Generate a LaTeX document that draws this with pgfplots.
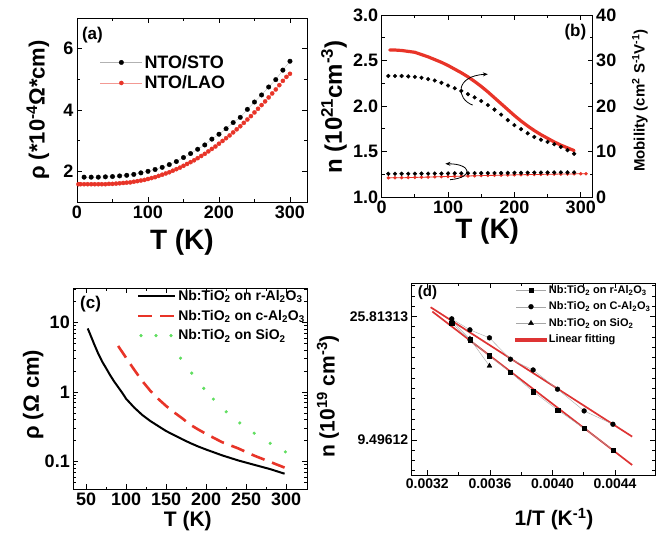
\documentclass[border=0pt]{standalone}
\usepackage{fontspec}
\setmainfont{Liberation Sans}
\usepackage{pgfplots}
\pgfplotsset{compat=1.18}
\usetikzlibrary{arrows.meta}

\definecolor{pred}{RGB}{232,52,40}
\definecolor{pgreen}{RGB}{96,222,96}
\definecolor{fitred}{RGB}{222,52,52}

\pgfplotsset{
  panel/.style={
    scale only axis, anchor=south west,
    axis line style={line width=0.9pt},
    every tick/.style={black, line width=0.8pt},
    major tick length=5pt, minor tick length=2.8pt,
    tick align=inside,
    /pgf/number format/assume math mode=true,
    tick label style={font=\bfseries\fontsize{18}{18}\selectfont},
    label style={font=\bfseries\fontsize{28}{28}\selectfont},
    legend cell align=left,
  },
}

\begin{document}
\begin{tikzpicture}
\useasboundingbox (0,0) rectangle (661pt,537pt);

% ---------------- (a)
\begin{axis}[panel, at={(77pt,335pt)}, width=230pt, height=184pt,
  xmin=0, xmax=324, ymin=1, ymax=7,
  xtick={0,100,200,300}, minor x tick num=1,
  ytick={2,4,6}, minor y tick num=1,
  xlabel={T (K)}, ylabel={ρ (*10\textsuperscript{-4}Ω*cm)},
  xlabel style={at={(axis description cs:0.456,-0.217)}, anchor=center},
  ylabel style={at={(axis description cs:-0.17,0.5)}, anchor=center, font=\bfseries\fontsize{22}{22}\selectfont},
  legend style={draw=none, fill=none, inner sep=0pt, at={(axis description cs:0.1,0.81)}, anchor=north west,
    font=\bfseries\fontsize{18}{18}\selectfont, row sep=2pt},
  legend image code/.code={\draw[#1, mark repeat=2, mark phase=2] plot coordinates {(0pt,0pt) (21pt,0pt) (42pt,0pt)};},
]
\addplot[draw=gray!60, line width=0.3pt, mark=*, mark size=2.3pt, mark options={fill=black, draw=black}] coordinates {
(10,1.81) (20,1.81) (30,1.81) (40,1.82) (50,1.83) (60,1.85) (70,1.87) (80,1.90) (90,1.95) (100,2.00)
(110,2.06) (120,2.13) (130,2.22) (140,2.32) (150,2.45) (160,2.58) (170,2.72) (180,2.86) (190,3.05) (200,3.21)
(210,3.39) (220,3.59) (230,3.76) (240,4.02) (250,4.26) (260,4.49) (270,4.75) (280,4.99) (290,5.30) (300,5.59)
};
\addlegendentry{NTO/STO}
\addplot[draw=pred!50, line width=0.3pt, mark=*, mark size=2.1pt, mark options={fill=pred, draw=pred}] coordinates {
(2,1.58) (5,1.58) (10,1.58) (15,1.58) (20,1.58) (25,1.58) (30,1.58) (35,1.58) (40,1.58) (45,1.59) (50,1.59)
(55,1.60) (60,1.61) (65,1.62) (70,1.63) (75,1.64) (80,1.66) (85,1.68) (90,1.70) (95,1.72) (100,1.75)
(105,1.78) (110,1.81) (115,1.85) (120,1.89) (125,1.93) (130,1.97) (135,2.02) (140,2.07) (145,2.12) (150,2.18)
(155,2.24) (160,2.30) (165,2.36) (170,2.43) (175,2.50) (180,2.57) (185,2.65) (190,2.73) (195,2.81) (200,2.90)
(205,2.99) (210,3.08) (215,3.17) (220,3.27) (225,3.37) (230,3.47) (235,3.58) (240,3.69) (245,3.80) (250,3.92)
(255,4.04) (260,4.16) (265,4.28) (270,4.41) (275,4.54) (280,4.67) (285,4.81) (290,4.95) (295,5.08) (300,5.18)
};
\addlegendentry{NTO/LAO}
\node[font=\bfseries\fontsize{17}{17}\selectfont] at (axis description cs:0.067,0.908) {(a)};
\end{axis}

% ---------------- (b) carrier density (left axis)
\begin{axis}[panel, at={(381.7pt,340pt)}, width=211pt, height=182pt,
  xmin=0, xmax=318, ymin=1, ymax=3,
  xtick={0,100,200,300}, minor x tick num=1,
  ytick={1.0,1.5,2.0,2.5,3.0}, yticklabels={1.0,1.5,2.0,2.5,3.0}, minor y tick num=1,
  xlabel={T (K)}, ylabel={n (10\textsuperscript{21}cm\textsuperscript{-3})},
  xlabel style={at={(axis description cs:0.5,-0.19)}, anchor=center},
  ylabel style={at={(axis description cs:-0.226,0.495)}, anchor=center, font=\bfseries\fontsize{24}{24}\selectfont},
]
\addplot[pred, line width=0.8pt, mark=*, mark size=1.3pt] coordinates {
(10,1.210) (20,1.211) (30,1.212) (40,1.213) (50,1.215) (60,1.217) (70,1.219) (80,1.221) (90,1.223) (100,1.225)
(110,1.227) (120,1.229) (130,1.231) (140,1.233) (150,1.235) (160,1.237) (170,1.238) (180,1.240) (190,1.242) (200,1.243)
(210,1.245) (220,1.246) (230,1.247) (240,1.248) (250,1.250) (260,1.251) (270,1.252) (280,1.253) (290,1.254) (300,1.255) (308,1.255)
};
\addplot[only marks, mark=*, mark size=1.9pt, black] coordinates {
(10,1.255) (20,1.255) (30,1.255) (40,1.256) (50,1.256) (60,1.257) (70,1.257) (80,1.258) (90,1.258) (100,1.259)
(110,1.260) (120,1.260) (130,1.261) (140,1.262) (150,1.262) (160,1.263) (170,1.264) (180,1.264) (190,1.265) (200,1.266)
(210,1.266) (220,1.267) (230,1.268) (240,1.268) (250,1.269) (260,1.270) (270,1.270) (280,1.270) (290,1.270)
};
\node[font=\bfseries\fontsize{17}{17}\selectfont] at (axis description cs:0.918,0.904) {(b)};
\end{axis}

% ---------------- (b) mobility (right axis)
\begin{axis}[panel, at={(381.7pt,340pt)}, width=211pt, height=182pt,
  xmin=0, xmax=318, ymin=0, ymax=40,
  axis x line=none, axis y line*=right,
  ytick={0,10,20,30,40}, minor y tick num=1,
  ylabel={Mobility (cm\textsuperscript{2} S\textsuperscript{-1}V\textsuperscript{-1})},
  ylabel style={at={(axis description cs:1.224,0.53)}, anchor=center, font=\bfseries\fontsize{15}{15}\selectfont},
]
\addplot[pred, line width=3.2pt, line cap=round] coordinates {
(12,32.3) (20,32.3) (30,32.2) (40,32.0) (50,31.8) (60,31.3) (70,30.8) (80,30.2) (90,29.6) (100,28.9)
(110,28.1) (120,27.3) (130,26.4) (140,25.4) (150,24.3) (160,23.1) (170,21.8) (180,20.5) (190,19.2) (200,17.9)
(210,16.7) (220,15.6) (230,14.6) (240,13.7) (250,12.9) (260,12.1) (270,11.4) (280,10.8) (290,10.2)
};
\addplot[only marks, mark=*, mark size=1.9pt, black] coordinates {
(10,26.6) (20,26.6) (30,26.6) (40,26.5) (50,26.4) (60,26.2) (70,25.9) (80,25.6) (90,25.1) (100,24.5)
(110,23.9) (120,23.3) (130,22.6) (140,21.9) (150,21.1) (160,20.2) (170,19.2) (180,18.1) (190,16.9) (200,15.8)
(210,14.9) (220,14.0) (230,13.2) (240,12.6) (250,12.1) (260,11.6) (270,11.0) (280,10.3) (290,9.5)
};
\draw[-{Stealth[length=5pt,width=4pt]}, line width=0.8pt] (axis cs:137,20.2) .. controls (axis cs:112,21.6) and (axis cs:110,26.6) .. (axis cs:160,27.0);
\draw[-{Stealth[length=5pt,width=4pt]}, line width=0.8pt] (axis cs:103,3.8) .. controls (axis cs:140,4.3) and (axis cs:135,7.3) .. (axis cs:96,7.3);
\end{axis}

% ---------------- (c)
\begin{axis}[panel, ymode=log, at={(73.3pt,47.7pt)}, width=233.7pt, height=201pt,
  xmin=34, xmax=326, ymin=0.04, ymax=31,
  xtick={50,100,...,300}, minor x tick num=1,
  ytick={0.1,1,10}, yticklabels={0.1,1,10},
  minor ytick={0.04,0.05,0.06,0.07,0.08,0.09,0.2,0.3,0.4,0.5,0.6,0.7,0.8,0.9,2,3,4,5,6,7,8,9,20,30},
  xlabel={T (K)}, ylabel={ρ (Ω cm)},
  label style={font=\bfseries\fontsize{22}{22}\selectfont},
  xlabel style={at={(axis description cs:0.49,-0.158)}, anchor=center, font=\bfseries\fontsize{21}{21}\selectfont},
  ylabel style={at={(axis description cs:-0.172,0.47)}, anchor=center},
  legend style={draw=none, fill=none, inner sep=0pt, at={(axis description cs:1.0,1.0)}, anchor=north east,
    font=\bfseries\fontsize{14}{14}\selectfont, row sep=4pt},
  legend image code/.code={\draw[#1] (0pt,0pt) -- (37pt,0pt);},
]
\addplot[black, line width=2pt] coordinates {
(52,8.2) (55,6.8) (60,4.9) (65,3.6) (70,2.75) (75,2.2) (80,1.75) (85,1.42) (90,1.18) (95,0.98) (100,0.80)
(110,0.60) (120,0.47) (130,0.385) (140,0.325) (150,0.275) (160,0.24) (170,0.21) (180,0.185) (190,0.165) (200,0.149)
(220,0.123) (240,0.104) (260,0.090) (280,0.078) (298,0.067)
};
\addlegendentry{Nb:TiO\textsubscript{2} on r-Al\textsubscript{2}O\textsubscript{3}}
\addplot[pred, line width=2.6pt, dash pattern=on 14pt off 8pt] coordinates {
(90,4.6) (100,3.1) (110,2.1) (120,1.45) (130,1.05) (140,0.80) (150,0.63) (160,0.51) (170,0.42) (180,0.34)
(190,0.29) (200,0.25) (220,0.19) (240,0.155) (260,0.122) (280,0.099) (298,0.082)
};
\addlegendentry{Nb:TiO\textsubscript{2} on c-Al\textsubscript{2}O\textsubscript{3}}
\addplot[only marks, mark=*, mark size=1.4pt, pgreen,
  legend image code/.code={\foreach \xx in {3,18,33} \fill[pgreen] (\xx pt,0pt) circle (1.4pt);}] coordinates {
(168,3.07) (182,1.87) (197,1.13) (209,0.79) (225,0.52) (242,0.36) (260,0.256) (280,0.183) (299,0.138)
};
\addlegendentry{Nb:TiO\textsubscript{2} on SiO\textsubscript{2}}
\node[font=\bfseries\fontsize{17}{17}\selectfont] at (axis description cs:0.074,0.919) {(c)};
\end{axis}

% ---------------- (d)
\begin{axis}[panel, at={(411.7pt,62pt)}, width=243.3pt, height=191.7pt,
  xmin=0.00310, xmax=0.004655, ymin=1.967, ymax=3.52,
  scaled x ticks=false,
  xtick={0.0032,0.0036,0.0040,0.0044}, xticklabels={0.0032,0.0036,0.0040,0.0044}, minor x tick num=1,
  ytick={2.2509,3.2508}, yticklabels={9.49612,25.81313},
  minor ytick={1.9176,2.0009,2.0842,2.1676,2.3342,2.4176,2.5009,2.5842,2.6676,2.7509,2.8342,2.9176,3.0009,3.0842,3.1676,3.3342,3.4176,3.5009},
  tick label style={font=\bfseries\fontsize{14}{14}\selectfont},
  label style={font=\bfseries\fontsize{21}{21}\selectfont},
  xlabel={1/T (K\textsuperscript{-1})}, ylabel={n (10\textsuperscript{19} cm\textsuperscript{-3})},
  xlabel style={at={(axis description cs:0.585,-0.23)}, anchor=center},
  ylabel style={at={(axis description cs:-0.344,0.41)}, anchor=center},
  reverse legend,
  legend style={draw=none, fill=none, inner sep=0pt, at={(axis description cs:0.99,1.0)}, anchor=north east,
    font=\bfseries\fontsize{11}{11}\selectfont, row sep=3pt},
  legend image code/.code={\draw[#1, mark repeat=2, mark phase=2] plot coordinates {(0pt,0pt) (15pt,0pt) (30pt,0pt)};},
]
\addplot[fitred, line width=1.7pt,
  legend image code/.code={\fill[fitred] (0pt,-1.1pt) rectangle (30pt,1.1pt);}] coordinates {(0.003221,3.326) (0.004509,2.278)};
\addlegendentry{Linear fitting}
\addplot[forget plot, fitred, line width=1.7pt] coordinates {(0.003232,3.291) (0.004509,2.048)};
\addplot[draw=gray!70, line width=0.4pt, mark=triangle*, mark size=2.8pt, mark options={black, fill=black}] coordinates {
(0.003356,3.218) (0.003472,3.070) (0.003597,2.851)
};
\addlegendentry{Nb:TiO\textsubscript{2} on SiO\textsubscript{2}}
\addplot[draw=gray!70, line width=0.4pt, mark=*, mark size=2.4pt, mark options={black, fill=black}] coordinates {
(0.003356,3.232) (0.003472,3.143) (0.003597,3.078) (0.003731,2.905) (0.003876,2.818) (0.004032,2.662) (0.004202,2.486) (0.004386,2.378)
};
\addlegendentry{Nb:TiO\textsubscript{2} on C-Al\textsubscript{2}O\textsubscript{3}}
\addplot[draw=gray!70, line width=0.4pt, mark=square*, mark size=2.2pt, mark options={black, fill=black}] coordinates {
(0.003356,3.197) (0.003472,3.062) (0.003597,2.932) (0.003731,2.799) (0.003876,2.643) (0.004032,2.494) (0.004202,2.345) (0.004386,2.170)
};
\addlegendentry{Nb:TiO\textsubscript{2} on r-Al\textsubscript{2}O\textsubscript{3}}
\node[font=\bfseries\fontsize{15}{15}\selectfont] at (axis description cs:0.065,0.952) {(d)};
\end{axis}
\end{tikzpicture}
\end{document}
